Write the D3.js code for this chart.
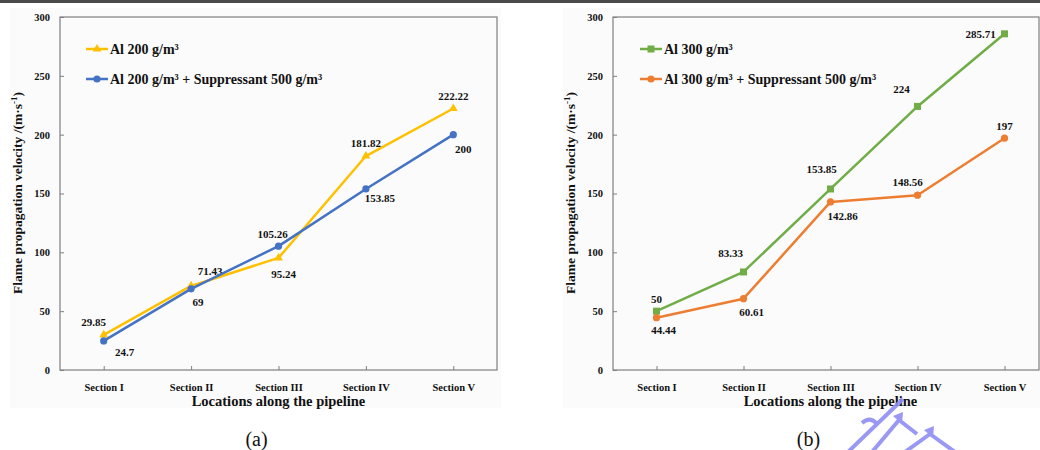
<!DOCTYPE html>
<html>
<head>
<meta charset="utf-8">
<script src="https://cdn.jsdelivr.net/npm/d3@7"></script>
<style>
  body { margin: 0; background: #fff; }
  svg { display: block; font-family: "Liberation Serif", "Times New Roman", serif; }
</style>
</head>
<body>
<div id="chart"></div>
<script>
// categories and ticks
const sections = ["Section I", "Section II", "Section III", "Section IV", "Section V"];
const yTicks = [0, 50, 100, 150, 200, 250, 300];

// panel (a)
const al200 = [29.85, 71.43, 95.24, 181.82, 222.22];
const al200Supp = [24.7, 69, 105.26, 153.85, 200];
const al200Labels = ["29.85", "71.43", "95.24", "181.82", "222.22"];
const al200SuppLabels = ["24.7", "69", "105.26", "153.85", "200"];

// panel (b)
const al300 = [50, 83.33, 153.85, 224, 285.71];
const al300Supp = [44.44, 60.61, 142.86, 148.56, 197];
const al300Labels = ["50", "83.33", "153.85", "224", "285.71"];
const al300SuppLabels = ["44.44", "60.61", "142.86", "148.56", "197"];

// label offsets (dx, dy) relative to each point
const offA1 = [[-10, -13], [19, -15], [5, 16], [0, -13], [0, -13]];
const offA2 = [[21, 11], [7, 13], [-6, -12], [14, 9], [10, 14]];
const offB1 = [[0, -12], [-13, -19], [-9, -20], [-16, -17], [-24, 0]];
const offB2 = [[7, 12], [8, 13], [12, 14], [-10, -13], [0, -12]];

const W = 1040, H = 450;
const svg = d3.select("#chart").append("svg").attr("width", W).attr("height", H);

// top rule
svg.append("rect").attr("x", 0).attr("y", 0).attr("width", W).attr("height", 3).attr("fill", "#4a4a4a");

function marker(g, type, color, cx, cy) {
  if (type === "triangle") {
    g.append("path")
      .attr("d", d3.symbol().type(d3.symbolTriangle).size(34)())
      .attr("transform", `translate(${cx},${cy})`)
      .attr("fill", color);
  } else if (type === "square") {
    g.append("rect").attr("x", cx - 3.5).attr("y", cy - 3.5).attr("width", 7).attr("height", 7).attr("fill", color);
  } else {
    g.append("circle").attr("cx", cx).attr("cy", cy).attr("r", 3.6).attr("fill", color);
  }
}

function drawPanel(opt) {
  const { left, frameRight, bandW, series, caption, titleX, bgX, bgW, legendX } = opt;
  const top = 17, bottom = 370;

  svg.append("rect").attr("x", bgX).attr("y", 8).attr("width", bgW).attr("height", 400).attr("fill", "#fbfbfb");

  const x = d3.scalePoint().domain(sections).range([left + bandW / 2, left + bandW * 4.5]);
  const y = d3.scaleLinear().domain([0, 300]).range([bottom, top]);

  const g = svg.append("g");

  // frame
  g.append("rect")
    .attr("x", left).attr("y", top)
    .attr("width", frameRight - left).attr("height", bottom - top)
    .attr("fill", "none").attr("stroke", "#7f7f7f").attr("stroke-width", 1.2);

  // y axis
  const ya = g.append("g").attr("transform", `translate(${left},0)`)
    .call(d3.axisLeft(y).tickValues(yTicks).tickSize(-4).tickPadding(10));
  ya.select(".domain").remove();
  ya.selectAll("line").attr("stroke", "#7f7f7f");
  ya.selectAll("text").attr("font-size", 10.5).attr("font-weight", "bold").attr("fill", "#111")
    .attr("font-family", "Liberation Serif");

  // x axis
  const xa = g.append("g").attr("transform", `translate(0,${bottom})`)
    .call(d3.axisBottom(x).tickSize(-4).tickPadding(14));
  xa.select(".domain").remove();
  xa.selectAll("line").attr("stroke", "#7f7f7f");
  xa.selectAll("text").attr("font-size", 10.5).attr("font-weight", "bold").attr("fill", "#111")
    .attr("font-family", "Liberation Serif");

  // axis titles
  g.append("text")
    .attr("x", (left + left + bandW * 5) / 2).attr("y", 406)
    .attr("text-anchor", "middle").attr("font-size", 14.5).attr("font-weight", "bold").attr("fill", "#111")
    .text("Locations along the pipeline");

  const yt = g.append("text")
    .attr("transform", `translate(${titleX},193) rotate(-90)`)
    .attr("text-anchor", "middle").attr("font-size", 13.5).attr("font-weight", "bold").attr("fill", "#111");
  yt.append("tspan").text("Flame propagation velocity /(m·s");
  yt.append("tspan").attr("dy", -5).attr("font-size", 9).text("-1");
  yt.append("tspan").attr("dy", 5).text(")");

  // lines, markers, labels
  const line = d3.line().x((d, i) => x(sections[i])).y(d => y(d));
  series.forEach(s => {
    g.append("path").datum(s.values)
      .attr("d", line).attr("fill", "none")
      .attr("stroke", s.color).attr("stroke-width", 2.5).attr("stroke-linejoin", "round");
    s.values.forEach((v, i) => marker(g, s.marker, s.color, x(sections[i]), y(v)));
    g.selectAll(null).data(s.values).enter().append("text")
      .attr("x", (d, i) => x(sections[i]) + s.off[i][0])
      .attr("y", (d, i) => y(d) + s.off[i][1] + 4)
      .attr("text-anchor", "middle").attr("font-size", 11).attr("font-weight", "bold").attr("fill", "#111")
      .text((d, i) => s.labels[i]);
  });

  // legend
  series.forEach((s, i) => {
    const ly = 49 + i * 30;
    g.append("line").attr("x1", legendX).attr("x2", legendX + 22).attr("y1", ly).attr("y2", ly)
      .attr("stroke", s.color).attr("stroke-width", 2.5);
    marker(g, s.marker, s.color, legendX + 11, ly);
    g.append("text").attr("x", legendX + 24).attr("y", ly + 5)
      .attr("font-size", 14).attr("font-weight", "bold").attr("fill", "#111")
      .text(s.name);
  });

  // caption
  svg.append("text")
    .attr("x", (left + left + bandW * 5) / 2 - 22).attr("y", 446)
    .attr("text-anchor", "middle").attr("font-size", 20).attr("fill", "#111")
    .text(caption);
}

drawPanel({
  left: 60, frameRight: 497, bandW: 87.4, titleX: 22, bgX: 10, bgW: 491, legendX: 86,
  caption: "(a)",
  series: [
    { name: "Al 200 g/m³", values: al200, labels: al200Labels, off: offA1, color: "#FFC000", marker: "triangle" },
    { name: "Al 200 g/m³ + Suppressant 500 g/m³", values: al200Supp, labels: al200SuppLabels, off: offA2, color: "#4472C4", marker: "circle" }
  ]
});

drawPanel({
  left: 613, frameRight: 1039, bandW: 87, titleX: 575, bgX: 563, bgW: 477, legendX: 640,
  caption: "(b)",
  series: [
    { name: "Al 300 g/m³", values: al300, labels: al300Labels, off: offB1, color: "#70AD47", marker: "square" },
    { name: "Al 300 g/m³ + Suppressant 500 g/m³", values: al300Supp, labels: al300SuppLabels, off: offB2, color: "#ED7D31", marker: "circle" }
  ]
});

// watermark strokes (bottom right)
const wm = svg.append("g").attr("stroke", "#8f8ff5").attr("fill", "none").attr("stroke-width", 4).attr("opacity", 0.9);
wm.append("path").attr("d", "M903,399 L848,452");
wm.append("path").attr("d", "M862,423 Q870,416 877,424");
wm.append("path").attr("d", "M899,420 L872,452 M899,420 L917,434");
wm.append("path").attr("d", "M930,434 L905,452 M930,434 L955,452");
wm.append("path").attr("fill", "#8f8ff5").attr("stroke", "none").attr("d", "M893,416 L903,412 L902,424 Z M924,430 L934,426 L933,438 Z");
</script>
</body>
</html>
